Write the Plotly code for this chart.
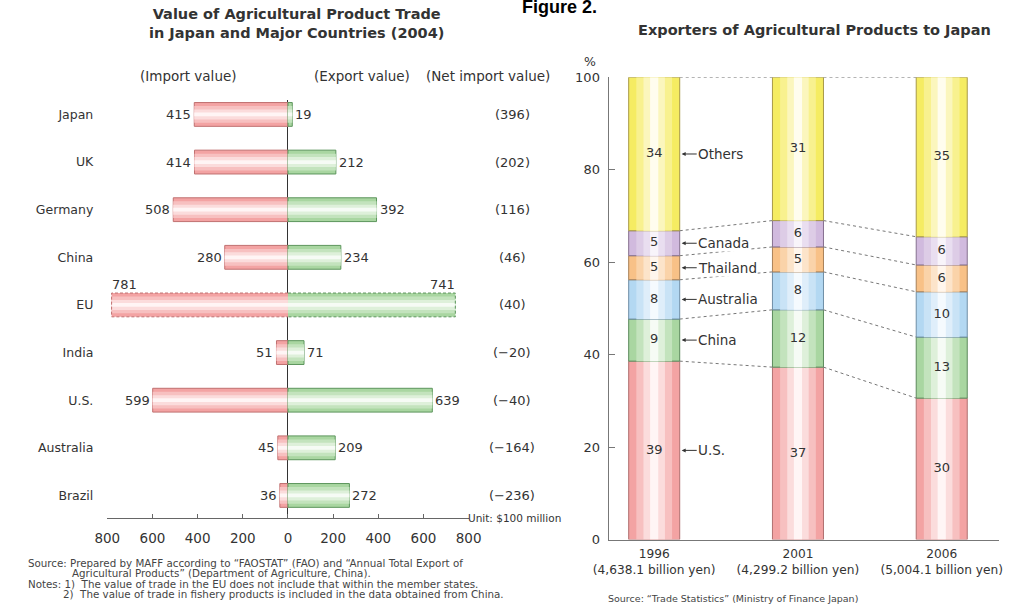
import plotly.graph_objects as go
import numpy as np

# ---------------- data: left chart ----------------
countries = ["Japan", "UK", "Germany", "China", "EU", "India", "U.S.", "Australia", "Brazil"]
imports = [415, 414, 508, 280, 781, 51, 599, 45, 36]
exports = [19, 212, 392, 234, 741, 71, 639, 209, 272]
net_import_labels = ["(396)", "(202)", "(116)", "(46)", "(40)", "(\u221220)", "(\u221240)", "(\u2212164)", "(\u2212236)"]
trade_ticks = [-800, -600, -400, -200, 0, 200, 400, 600, 800]

# ---------------- data: right chart ----------------
years = ["1996", "2001", "2006"]
totals = ["4,638.1", "4,299.2", "5,004.1"]
origins = ["U.S.", "China", "Australia", "Thailand", "Canada", "Others"]
share_us = [38.6, 37.3, 30.6]
share_china = [9.1, 12.4, 13.2]
share_australia = [8.5, 8.2, 9.8]
share_thailand = [5.2, 5.4, 5.8]
share_canada = [5.4, 5.7, 6.1]
share_others = [33.2, 31.0, 34.5]
label_us = [39, 37, 30]
label_china = [9, 12, 13]
label_australia = [8, 8, 10]
label_thailand = [5, 5, 6]
label_canada = [5, 6, 6]
label_others = [34, 31, 35]
share_ticks = [0, 20, 40, 60, 80, 100]

FONT = "DejaVu Sans, Liberation Sans, Arial, sans-serif"
TXT = "#333333"
FS = 13

fig = go.Figure()

# ---------------- left chart ----------------
rows = list(range(len(countries)))
BW = 0.5
red_layers = [("#f3a3a3", 1.0), ("#f7c0c0", 0.7), ("#fbdcdc", 0.42), ("#fff5f5", 0.16)]
green_layers = [("#a9d6a1", 1.0), ("#c3e3bd", 0.7), ("#def0da", 0.42), ("#f6fbf5", 0.16)]
eu_idx = countries.index("EU")
line_w = [0 if c == "EU" else 1 for c in countries]

for k, (col, f) in enumerate(red_layers):
    fig.add_trace(go.Bar(
        x=[-v for v in imports], y=rows, base=0, orientation="h", width=BW * f,
        marker=dict(color=col, line=dict(color="#c07070", width=line_w if k == 0 else 0)),
        xaxis="x", yaxis="y", showlegend=False, hoverinfo="skip"))
for k, (col, f) in enumerate(green_layers):
    fig.add_trace(go.Bar(
        x=exports, y=rows, base=0, orientation="h", width=BW * f,
        marker=dict(color=col, line=dict(color="#5c955c", width=line_w if k == 0 else 0)),
        xaxis="x", yaxis="y", showlegend=False, hoverinfo="skip"))

# dashed outline for EU bars
eu_y0, eu_y1 = eu_idx - BW / 2, eu_idx + BW / 2
fig.add_trace(go.Scatter(
    x=[0, -imports[eu_idx], -imports[eu_idx], 0], y=[eu_y0, eu_y0, eu_y1, eu_y1],
    mode="lines", line=dict(color="#c07070", width=1, dash="3px,2px"),
    xaxis="x", yaxis="y", showlegend=False, hoverinfo="skip"))
fig.add_trace(go.Scatter(
    x=[0, exports[eu_idx], exports[eu_idx], 0], y=[eu_y0, eu_y0, eu_y1, eu_y1],
    mode="lines", line=dict(color="#5c955c", width=1, dash="3px,2px"),
    xaxis="x", yaxis="y", showlegend=False, hoverinfo="skip"))

annotations = []
for i, c in enumerate(countries):
    if c == "EU":
        annotations.append(dict(x=-imports[i], y=i, xref="x", yref="y", text=str(imports[i]),
                                showarrow=False, xanchor="left", yanchor="bottom", yshift=11, xshift=-2,
                                font=dict(size=FS, color=TXT)))
        annotations.append(dict(x=exports[i], y=i, xref="x", yref="y", text=str(exports[i]),
                                showarrow=False, xanchor="right", yanchor="bottom", yshift=11, xshift=2,
                                font=dict(size=FS, color=TXT)))
    else:
        annotations.append(dict(x=-imports[i], y=i, xref="x", yref="y", text=str(imports[i]),
                                showarrow=False, xanchor="right", xshift=-1,
                                font=dict(size=FS, color=TXT)))
        annotations.append(dict(x=exports[i], y=i, xref="x", yref="y", text=str(exports[i]),
                                showarrow=False, xanchor="left", xshift=1,
                                font=dict(size=FS, color=TXT)))
    annotations.append(dict(x=511 / 1013, y=i, xref="paper", yref="y", text=net_import_labels[i],
                            showarrow=False, xanchor="center", font=dict(size=FS, color=TXT)))

# headers
for txt, xp in [("(Import value)", 178), ("(Export value)", 356), ("(Net import value)", 486)]:
    annotations.append(dict(x=xp / 1013, y=1 - 71 / 612, xref="paper", yref="paper", text=txt,
                            showarrow=False, xanchor="center", yanchor="middle",
                            font=dict(size=13.5, color=TXT)))
annotations.append(dict(x=463 / 1013, y=1 - 524 / 612, xref="paper", yref="paper",
                        text="Unit: $100 million", showarrow=False, xanchor="left", yanchor="middle",
                        font=dict(size=10.5, color=TXT)))
annotations.append(dict(x=289 / 1013, y=1 - 17 / 612, xref="paper", yref="paper",
                        text="<b>Value of Agricultural Product Trade<br>in Japan and Major Countries (2004)</b>",
                        showarrow=False, xanchor="center", yanchor="middle",
                        font=dict(size=14.5, color=TXT)))
note_lines = [
    (10, "Source: Prepared by MAFF according to \u201cFAOSTAT\u201d (FAO) and \u201cAnnual Total Export of"),
    (56, "Agricultural Products\u201d (Department of Agriculture, China)."),
    (10, "Notes: 1)  The value of trade in the EU does not include that within the member states."),
    (46, "2)  The value of trade in fishery products is included in the data obtained from China."),
]
for j, (xp, txt) in enumerate(note_lines):
    annotations.append(dict(x=xp / 1013, y=1 - (570 + 10.6 * j) / 612, xref="paper", yref="paper",
                            text=txt, showarrow=False, xanchor="left", yanchor="middle",
                            font=dict(size=10.3, color="#444444")))

# ---------------- right chart ----------------
xpos = list(range(len(years)))
VW = 0.355
series = [
    ("U.S.", share_us, label_us, ["#f3a3a3", "#f7c0c0", "#fbdcdc", "#fff5f5"], "#b07070"),
    ("China", share_china, label_china, ["#a9d6a1", "#c3e3bd", "#def0da", "#f6fbf5"], "#5c8a5c"),
    ("Australia", share_australia, label_australia, ["#b3d8f2", "#c9e3f6", "#dfeefa", "#f5fafe"], "#6f8ea6"),
    ("Thailand", share_thailand, label_thailand, ["#f8c187", "#fad3a9", "#fce4ca", "#fff6ed"], "#a88058"),
    ("Canada", share_canada, label_canada, ["#d1bade", "#ddcce6", "#e9def0", "#f8f4fa"], "#85708f"),
    ("Others", share_others, label_others, ["#f5ec62", "#f8f18f", "#fbf6bd", "#fffdee"], "#a89a48"),
]
v_fracs = [1.0, 0.7, 0.42, 0.16]
cum = np.zeros(len(years))
levels = []
mids_first = {}
for name, vals, labs, cols, edge in series:
    vals = np.array(vals, dtype=float)
    for k, col in enumerate(cols):
        fig.add_trace(go.Bar(
            x=xpos, y=vals, base=cum.copy(), width=VW * v_fracs[k],
            marker=dict(color=col, line=dict(color=edge, width=1 if k == 0 else 0)),
            xaxis="x2", yaxis="y2", showlegend=False, hoverinfo="skip"))
    mids = cum + vals / 2
    fig.add_trace(go.Scatter(
        x=xpos, y=mids, mode="text", text=[str(l) for l in labs],
        textfont=dict(size=FS, color=TXT), xaxis="x2", yaxis="y2",
        showlegend=False, hoverinfo="skip"))
    mids_first[name] = mids[0]
    cum = cum + vals
    levels.append(cum.copy())

# dashed connectors between bars
for lev in levels:
    for i in range(len(years) - 1):
        fig.add_trace(go.Scatter(
            x=[xpos[i] + VW / 2, xpos[i + 1] - VW / 2], y=[lev[i], lev[i + 1]],
            mode="lines", line=dict(color="#777777", width=1, dash="3px,3px"),
            xaxis="x2", yaxis="y2", showlegend=False, hoverinfo="skip"))

# callouts on first bar
for name, vals, labs, cols, edge in series:
    annotations.append(dict(x=xpos[0] + VW / 2, y=mids_first[name], xref="x2", yref="y2",
                            text=name, showarrow=True, arrowhead=2, arrowsize=0.8, arrowwidth=1,
                            arrowcolor="#333333", ax=17, ay=0, xanchor="left", standoff=2,
                            bgcolor="white", borderpad=0,
                            font=dict(size=13.5, color=TXT)))

annotations.append(dict(x=591 / 1013, y=1 - 56 / 612, xref="paper", yref="paper", text="%",
                        showarrow=False, xanchor="center", yanchor="middle",
                        font=dict(size=12.5, color=TXT)))
annotations.append(dict(x=822 / 1013, y=1 - 24 / 612, xref="paper", yref="paper",
                        text="<b>Exporters of Agricultural Products to Japan</b>",
                        showarrow=False, xanchor="center", yanchor="middle",
                        font=dict(size=14.5, color=TXT)))
annotations.append(dict(x=607 / 1013, y=1 - 606 / 612, xref="paper", yref="paper",
                        text="Source: \u201cTrade Statistics\u201d (Ministry of Finance Japan)",
                        showarrow=False, xanchor="left", yanchor="middle",
                        font=dict(size=9.5, color="#444444")))
annotations.append(dict(x=560 / 1013, y=1 - 12 / 612, xref="paper", yref="paper",
                        text="<b>Figure 2.</b>", showarrow=False, xanchor="center", yanchor="bottom",
                        font=dict(size=18, color="#000000", family="Liberation Sans, Arial, sans-serif")))

fig.update_layout(
    width=1013, height=612,
    margin=dict(l=0, r=0, t=0, b=0),
    paper_bgcolor="white", plot_bgcolor="white",
    barmode="overlay",
    font=dict(family=FONT, size=FS, color=TXT),
    showlegend=False,
    annotations=annotations,
    xaxis=dict(domain=[94 / 1013, 466 / 1013], range=[-800, 800], tickvals=trade_ticks,
               ticktext=[str(abs(t)) for t in trade_ticks], ticks="inside", ticklen=4,
               tickcolor="#666666", showline=True, linecolor="#666666", linewidth=1,
               showgrid=False, zeroline=True, zerolinecolor="#333333", zerolinewidth=1,
               tickfont=dict(size=FS + 0.5, color=TXT), anchor="y", ticklabelstandoff=8, fixedrange=True),
    yaxis=dict(domain=[1 - 524 / 612, 1 - 95 / 612], range=[8.477, -0.31], tickvals=rows,
               ticktext=countries, showline=False, showgrid=False, zeroline=False, ticks="",
               tickfont=dict(size=12.5, color=TXT), anchor="x", ticklabelstandoff=13, fixedrange=True),
    xaxis2=dict(domain=[610 / 1013, 1012 / 1013], range=[-0.3176, 2.3986], tickvals=xpos,
                ticktext=[f"{y}<br>({t} billion yen)" for y, t in zip(years, totals)],
                ticks="", showline=True, linecolor="#777777", linewidth=1, showgrid=False,
                zeroline=False, tickfont=dict(size=12.2, color=TXT), anchor="y2",
                ticklabelstandoff=3, ticklabeloverflow="allow", fixedrange=True),
    yaxis2=dict(domain=[1 - 546 / 612, 1 - 72 / 612], range=[0, 100], tickvals=share_ticks,
                ticks="inside", ticklen=6, tickcolor="#777777", showline=True, linecolor="#777777",
                linewidth=1, showgrid=False, zeroline=False, tickfont=dict(size=13, color=TXT),
                anchor="x2", ticklabelstandoff=5, fixedrange=True),
)

fig.write_html("out.html")
